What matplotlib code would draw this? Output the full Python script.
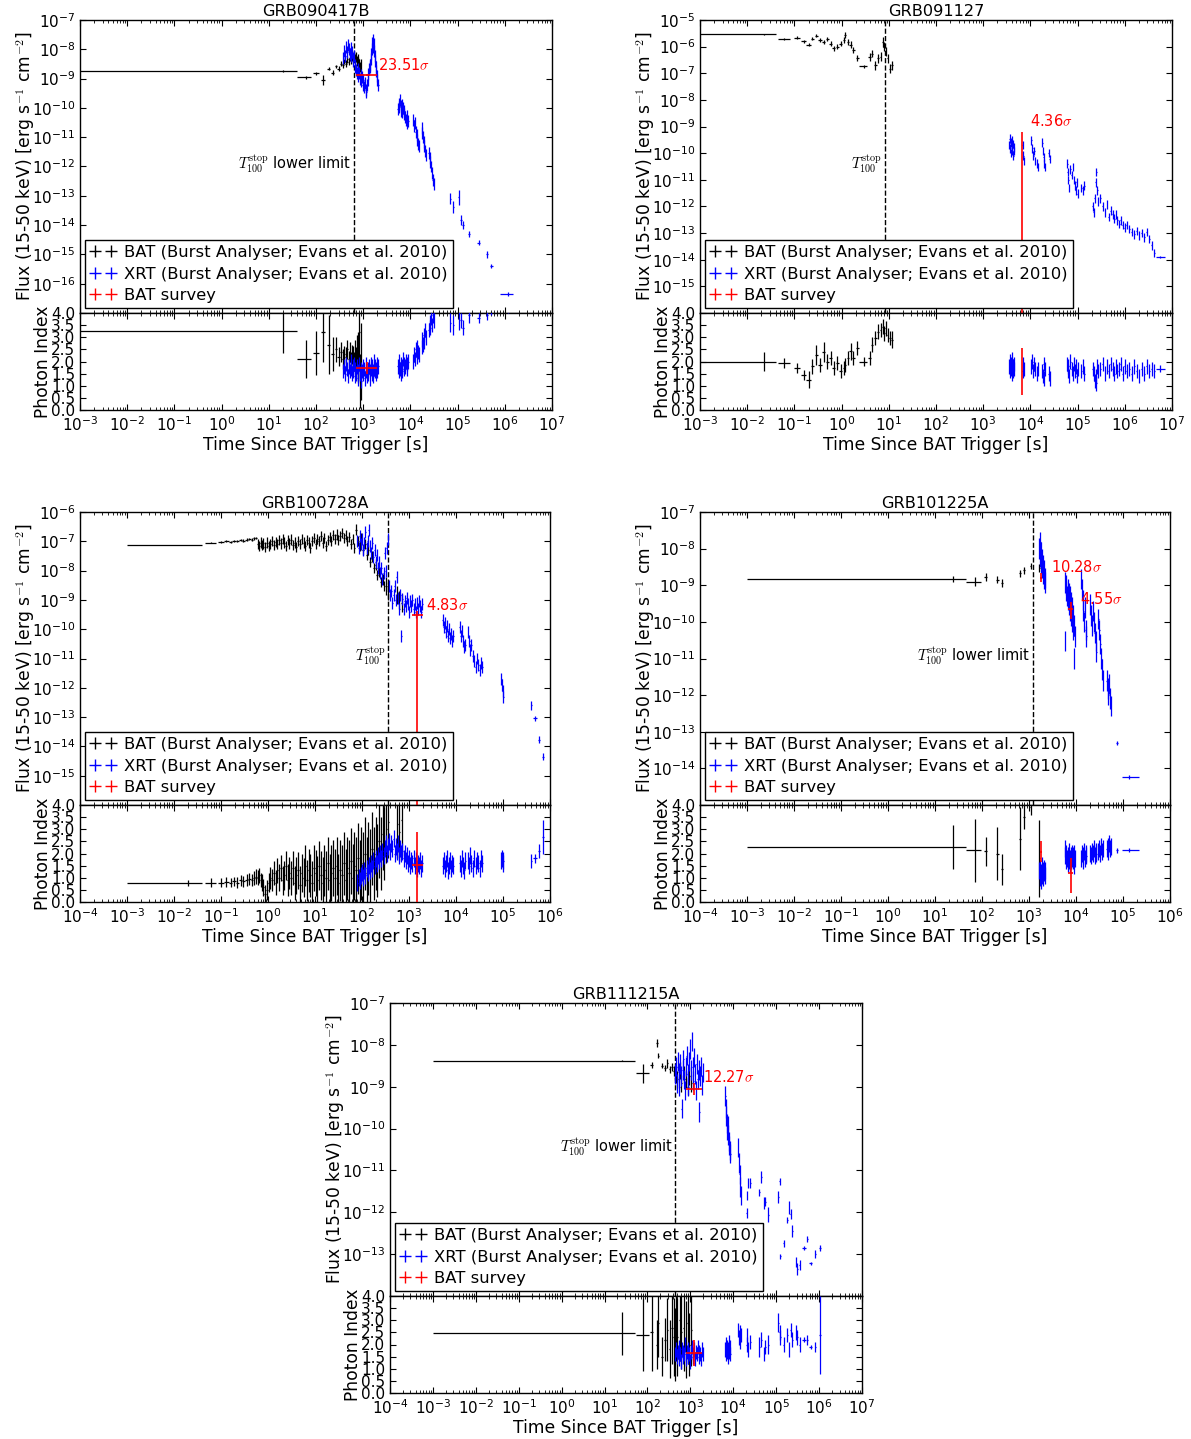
import numpy as np
import matplotlib
matplotlib.use('Agg')
import matplotlib.pyplot as plt
from matplotlib.lines import Line2D
from matplotlib.ticker import LogLocator, NullLocator, FixedLocator, FormatStrFormatter
from matplotlib.transforms import blended_transform_factory

# ---------------- GRB090417B ----------------
A_bat_t = [20, 60, 100, 140, 185, 225, 265, 300, 335, 370, 400, 430, 460, 490, 520, 550, 580, 610, 640, 670,
           700, 730, 760, 790, 820, 850, 880]
A_bat_lo = [0.001, 40, 85, 125, 170, 210, 250, 285, 320, 355, 385, 415, 445, 475, 505, 535, 565, 595, 625, 655,
            685, 715, 745, 775, 805, 835, 865]
A_bat_hi = [40, 80, 115, 155, 200, 240, 280, 315, 350, 385, 415, 445, 475, 505, 535, 565, 595, 625, 655, 685,
            715, 745, 775, 805, 835, 865, 895]
A_bat_f = [1.8e-9, 1.1e-9, 1.5e-9, 0.9e-9, 2.2e-9, 1.6e-9, 2.6e-9, 2.2e-9, 3.2e-9, 2.8e-9, 3.8e-9, 3.2e-9, 4.5e-9,
           3.8e-9, 5.2e-9, 4.2e-9, 5.5e-9, 4.6e-9, 6e-9, 4.8e-9, 5.5e-9, 4e-9, 3.5e-9, 4.5e-9, 3e-9, 2.5e-9, 3e-9]
A_bat_fe = [1.05, 1.15, 1.1, 1.5, 1.15, 1.2, 1.15, 1.2, 1.2, 1.25, 1.25, 1.3, 1.3, 1.3, 1.35, 1.35, 1.4, 1.4, 1.4,
            1.4, 1.45, 1.45, 1.5, 1.5, 1.5, 1.5, 1.5]
A_bat_g = [3.25, 2.1, 2.35, 3.2, 2.7, 2.3, 2.5, 2.2, 2.4, 2.1, 2.3, 2.2, 2.5, 2.1, 2.4, 2.0, 2.3, 2.2, 2.0, 2.4,
           2.1, 2.5, 1.9, 2.2, 3.2, 1.2, 2.0]
A_bat_ge = [0.9, 0.8, 0.9, 1.2, 1.2, 0.7, 0.5, 0.4, 0.4, 0.4, 0.35, 0.4, 0.4, 0.35, 0.4, 0.4, 0.4, 0.45, 0.4, 0.5,
            0.5, 0.6, 0.8, 1.0, 1.5, 1.1, 1.6]

A_xrt_t = [380, 400, 420, 440, 460, 480, 500, 520, 540, 560, 580, 600, 620, 640, 660, 680, 700,
           730, 760, 790, 820, 850, 880, 910, 940, 970,
           1000, 1040, 1080, 1120, 1160, 1200, 1240, 1280, 1320, 1360, 1400, 1440, 1480, 1520, 1560, 1600, 1640,
           1680, 1720, 1760, 1800, 1850, 1900, 1950, 2000, 2100,
           5400, 5600, 5800, 6000, 6200, 6400, 6600, 6800, 7000, 7200, 7400, 7700, 8000, 8300, 8600, 9000,
           11500, 12000, 12500, 13000, 13500, 14000, 14500, 15000,
           17500, 18000, 18500, 19000, 19500, 20000, 21000,
           24500, 25500, 26500, 27500, 28500, 29500, 31000]
A_xrt_f = [5e-9, 9e-9, 6e-9, 1.2e-8, 8e-9, 1.4e-8, 1e-8, 7e-9, 1.1e-8, 6e-9, 8e-9, 5e-9, 4e-9, 6e-9, 3e-9, 2.5e-9, 2e-9,
           1.5e-9, 2.2e-9, 1.2e-9, 1.6e-9, 1e-9, 1.3e-9, 8e-10, 1.1e-9, 6e-10,
           9e-10, 5e-10, 7e-10, 4e-10, 3.5e-10, 6e-10, 9e-10, 1.4e-9, 2.2e-9, 3e-9, 2.5e-9, 4.5e-9, 7e-9, 1e-8,
           1.6e-8, 1.2e-8, 2e-8, 1.5e-8, 9e-9, 6e-9, 4e-9, 2.5e-9, 1.8e-9, 1.2e-9, 9e-10, 6e-10,
           9e-11, 1.4e-10, 1.1e-10, 1.8e-10, 1.2e-10, 8e-11, 1.3e-10, 7e-11, 1e-10, 6e-11, 8e-11, 5e-11, 4e-11,
           5.5e-11, 3e-11, 3.5e-11,
           4e-11, 2.5e-11, 3e-11, 1.5e-11, 1.2e-11, 8e-12, 6e-12, 5e-12,
           2e-11, 1.4e-11, 1e-11, 7e-12, 5e-12, 3.5e-12, 2.5e-12,
           3e-12, 2e-12, 1.4e-12, 1e-12, 6e-13, 3.5e-13, 2.5e-13]
A_xrt_g = [1.6, 1.8, 1.5, 1.9, 1.7, 1.4, 1.8, 1.6, 2.0, 1.7, 1.5, 1.8, 1.6, 1.9, 1.4, 1.7, 1.5,
           1.8, 1.3, 1.6, 1.9, 1.5, 1.7, 1.2, 1.6, 1.8,
           1.5, 1.7, 1.3, 1.6, 1.9, 1.4, 1.7, 1.5, 1.8, 1.6, 1.3, 1.7, 1.9, 1.5, 1.8, 1.6, 1.4, 1.7, 2.0, 1.6, 1.8,
           1.5, 1.7, 1.9, 1.6, 1.8,
           1.8, 1.6, 2.0, 1.7, 1.5, 1.9, 1.8, 1.6, 2.1, 1.7, 1.9, 1.8, 2.0, 1.7, 1.9, 2.0,
           2.0, 2.3, 2.1, 2.5, 2.2, 2.6, 2.4, 2.3,
           2.6, 2.9, 2.7, 3.1, 2.8, 3.3, 3.0,
           3.3, 3.6, 3.4, 3.8, 3.5, 3.9, 3.7]

A_late_t = [70000, 81000, 105000, 118000, 130000, 175000, 280000, 420000, 520000, 1.15e6]
A_late_xw = [0.03, 0.03, 0.04, 0.03, 0.03, 0.05, 0.08, 0.05, 0.06, 0.3]
A_late_f = [8e-14, 4e-14, 9e-14, 1.5e-14, 1e-14, 5e-15, 2.5e-15, 1e-15, 4e-16, 4.5e-17]
A_late_fe = [1.5, 1.6, 1.8, 1.5, 1.4, 1.3, 1.2, 1.3, 1.2, 1.15]
A_late_g = [3.6, 3.5, 3.8, 3.7, 3.4, 3.9, 3.8, 3.9, 4.2, 4.3]
A_late_ge = [0.4, 0.4, 0.5, 0.3, 0.3, 0.3, 0.2, 0.2, 0.3, 0.3]

A_red_t, A_red_lo, A_red_hi = [1200], [700], [2000]
A_red_f, A_red_flo, A_red_fhi = [1.3e-9], [1.2e-9], [1.4e-9]
A_red_g, A_red_glo, A_red_ghi = [1.75], [1.5], [2.0]
A_sig = ['23.51']

# ---------------- GRB091127 ----------------
B_bat_t = [0.023, 0.06, 0.114, 0.16, 0.2, 0.24, 0.29, 0.35, 0.42, 0.5, 0.59, 0.69, 0.81, 0.95, 1.12, 1.2, 1.36,
           1.55, 1.77, 2.15, 2.96, 3.97, 4.45, 5.2, 5.9, 6.7, 7.4, 7.9, 8.6, 9.4, 10.7, 11.5]
B_bat_lo = [0.001, 0.045, 0.1, 0.14, 0.18, 0.22, 0.27, 0.32, 0.39, 0.46, 0.55, 0.64, 0.75, 0.88, 1.05, 1.15, 1.28,
            1.45, 1.66, 2.0, 2.3, 3.7, 4.2, 4.9, 5.6, 6.4, 7.1, 7.6, 8.3, 9.0, 10.2, 11.1]
B_bat_hi = [0.04, 0.08, 0.13, 0.18, 0.22, 0.26, 0.31, 0.38, 0.45, 0.54, 0.63, 0.74, 0.87, 1.02, 1.18, 1.26, 1.44,
            1.65, 1.88, 2.3, 3.4, 4.2, 4.7, 5.5, 6.2, 7.0, 7.7, 8.2, 8.9, 9.8, 11.2, 12.0]
B_bat_f = [2.9e-6, 2.0e-6, 2.2e-6, 1.6e-6, 1.2e-6, 2.0e-6, 2.6e-6, 1.8e-6, 1.5e-6, 2.0e-6, 1.3e-6, 8.7e-7, 1.0e-6,
           1.3e-6, 1.8e-6, 2.7e-6, 1.5e-6, 1.2e-6, 7.4e-7, 3.8e-7, 1.8e-7, 4.2e-7, 5.5e-7, 2.0e-7, 3.6e-7, 4.2e-7,
           1.5e-6, 1.0e-6, 6.4e-7, 3.6e-7, 1.5e-7, 2.0e-7]
B_bat_fe = [1.05, 1.1, 1.1, 1.15, 1.15, 1.15, 1.15, 1.2, 1.2, 1.2, 1.2, 1.25, 1.25, 1.25, 1.3, 1.3, 1.3, 1.3, 1.3,
            1.3, 1.1, 1.4, 1.4, 1.5, 1.5, 1.5, 1.5, 1.5, 1.5, 1.5, 1.5, 1.5]
B_bat_g = [2.0, 1.95, 1.73, 1.44, 1.24, 1.8, 2.27, 1.86, 2.4, 2.0, 2.15, 1.73, 1.93, 1.6, 1.73, 1.86, 2.15, 2.42,
           2.15, 2.56, 2.0, 2.15, 2.7, 2.97, 3.23, 3.3, 3.44, 3.16, 3.37, 3.1, 2.97, 2.9]
B_bat_ge = [0.4, 0.2, 0.2, 0.2, 0.35, 0.3, 0.4, 0.3, 0.4, 0.3, 0.3, 0.3, 0.3, 0.3, 0.3, 0.3, 0.3, 0.35, 0.3, 0.3,
            0.2, 0.3, 0.3, 0.3, 0.3, 0.3, 0.3, 0.3, 0.3, 0.3, 0.3, 0.35]

B_xrt_t = [3600, 3680, 3760, 3840, 3920, 4000, 4080, 4160, 4240, 4320, 4400, 4500,
           6900, 7100, 7300,
           10500, 11000, 11500, 12000, 12500,
           14000, 14500,
           18000, 18500, 19000, 19500, 20000,
           24500, 25500,
           60000, 62000, 64000, 66000, 70000, 75000, 80000, 84000, 88000, 92000, 96000, 100000,
           120000, 130000, 140000,
           210000, 220000, 230000, 240000, 250000, 260000, 270000,
           300000, 340000, 380000, 420000, 460000, 500000, 550000, 600000, 650000, 700000, 760000, 820000, 900000,
           1.0e6, 1.1e6, 1.25e6, 1.4e6, 1.6e6, 1.8e6, 2.0e6, 2.3e6, 2.6e6, 2.9e6, 3.3e6, 3.7e6, 4.2e6]
B_xrt_f = [2e-10, 3.5e-10, 1.5e-10, 2.5e-10, 1e-10, 3e-10, 1.8e-10, 1.2e-10, 2.2e-10, 8e-11, 1.6e-10, 1.2e-10,
           2e-10, 8e-11, 5e-11,
           3e-10, 1.5e-10, 8e-11, 1.2e-10, 5e-11,
           4e-11, 3e-11,
           2.5e-10, 1.2e-10, 7e-11, 4e-11, 3e-11,
           1e-10, 6e-11,
           4e-11, 2e-11, 1e-11, 5e-12, 2.5e-11, 1.5e-11, 3e-11, 1e-11, 6e-12, 4e-12, 8e-12, 3e-12,
           5e-12, 4e-12, 6e-12,
           1e-12, 6e-13, 2e-12, 8e-12, 2e-11, 4e-12, 1.5e-12,
           2e-12, 1e-12, 6e-13, 1.2e-12, 4e-13, 7e-13, 5e-13, 3.5e-13, 5e-13, 3e-13, 2.2e-13, 3e-13, 2e-13, 1.6e-13,
           2e-13, 1.4e-13, 1.1e-13, 9e-14, 1.2e-13, 8e-14, 1e-13, 7e-14, 1.1e-13, 6e-14, 3.5e-14, 1.8e-14]
B_xrt_g = [1.8, 1.6, 2.0, 1.7, 1.9, 1.5, 1.8, 2.1, 1.6, 1.8, 1.9, 1.7,
           1.6, 1.9, 1.7,
           1.8, 2.0, 1.6, 1.9, 1.7,
           1.5, 1.7,
           1.6, 1.4, 1.9, 1.3, 1.7,
           1.5, 1.3,
           1.9, 1.6, 1.8, 1.4, 2.0, 1.7, 1.5, 1.9, 1.6, 1.8, 1.4, 1.7,
           1.6, 1.8, 1.5,
           1.7, 1.5, 1.2, 1.4, 1.1, 1.8, 1.6,
           1.7, 1.9, 1.5, 1.8, 1.6, 1.9, 1.7, 1.5, 1.8, 1.6, 1.7, 1.9, 1.5, 1.8, 1.6, 1.7, 1.5, 1.8, 1.6, 1.4,
           1.7, 1.5, 1.8, 1.6, 1.7, 1.6]

B_late_t, B_late_lo, B_late_hi = [5.6e6], [4.5e6], [7.0e6]
B_late_f, B_late_fe = [1.3e-14], [1.1]
B_late_g, B_late_ge = [1.7], [0.15]

B_red_t, B_red_lo, B_red_hi = [6600], [6500], [6700]
B_red_f, B_red_flo, B_red_fhi = [1.5e-11], [1e-17], [6.3e-10]
B_red_g, B_red_glo, B_red_ghi = [1.6], [0.6], [2.55]
B_sig = ['4.36']

# ---------------- GRB100728A ----------------
C_bat_t = [0.02, 0.06, 0.1, 0.13, 0.16, 0.19, 0.22, 0.26, 0.3, 0.35, 0.4, 0.45, 0.5, 0.55]
C_bat_lo = [0.001, 0.045, 0.085, 0.115, 0.145, 0.175, 0.205, 0.24, 0.28, 0.325, 0.375, 0.425, 0.475, 0.525]
C_bat_hi = [0.04, 0.08, 0.115, 0.145, 0.175, 0.205, 0.24, 0.28, 0.325, 0.375, 0.425, 0.475, 0.525, 0.575]
C_bat_f = [7.5e-8, 9e-8, 9.5e-8, 1e-7, 9.5e-8, 1e-7, 1.05e-7, 1.1e-7, 1.05e-7, 1.15e-7, 1.2e-7, 1.15e-7, 1.25e-7,
           1.3e-7]
C_bat_fe = [1.03, 1.05, 1.06, 1.07, 1.08, 1.08, 1.09, 1.1, 1.1, 1.1, 1.12, 1.12, 1.12, 1.12]
C_bat_g = [0.77, 0.8, 0.8, 0.82, 0.8, 0.85, 0.8, 0.9, 0.85, 0.9, 0.95, 0.9, 1.0, 1.05]
C_bat_ge = [0.12, 0.2, 0.2, 0.2, 0.2, 0.2, 0.22, 0.22, 0.22, 0.25, 0.25, 0.25, 0.28, 0.3]

C_dense_t = [0.6, 0.65, 0.7, 0.75, 0.8, 0.87, 0.95,
             1.03, 1.12, 1.22, 1.33, 1.45, 1.58, 1.72, 1.87, 2.04,
             2.2, 2.4, 2.6, 2.85, 3.1, 3.4, 3.7, 4.0, 4.4, 4.8, 5.2, 5.7, 6.2, 6.8, 7.4, 8.0, 8.7, 9.5,
             10.4, 11.3, 12.3, 13.4, 14.6, 15.9, 17.3, 18.9, 20.6, 22.4, 24.4, 26.6, 29, 31.6, 34.4, 37.5, 40.9,
             44.6, 48.6, 53, 57.8, 63, 68.7, 74.9, 81.6, 89, 97,
             106, 115, 126, 137, 149, 163, 178, 194, 211, 230, 251, 274, 299]
C_dense_f = [8e-8, 7e-8, 9e-8, 7.5e-8, 8.5e-8, 6.5e-8, 9e-8,
             7e-8, 8e-8, 1e-7, 7.5e-8, 9.5e-8, 8e-8, 1.1e-7, 8.5e-8, 1.2e-7,
             9e-8, 7e-8, 1.1e-7, 8.5e-8, 1.15e-7, 7.5e-8, 9e-8, 6.5e-8, 1e-7, 8e-8, 1.2e-7, 9e-8, 7e-8, 1.1e-7,
             9e-8, 6e-8, 1e-7, 1.3e-7,
             8e-8, 1.2e-7, 1e-7, 1.5e-7, 9e-8, 1.3e-7, 7e-8, 1.1e-7, 1.4e-7, 1e-7, 1.6e-7, 1.2e-7, 1.7e-7, 1.1e-7,
             1.5e-7, 1.9e-7, 1.3e-7, 1.6e-7, 1e-7, 1.4e-7, 8e-8, 1.2e-7, 6e-8, 2.5e-7, 1e-7, 7e-8, 1.3e-7,
             5e-8, 8e-8, 3.5e-8, 5e-8, 2e-8, 3e-8, 1.2e-8, 1.6e-8, 7e-9, 9e-9, 4e-9, 5e-9, 3e-9]
C_dense_g = [1.0, 1.1, 0.9, 0.8, 0.6, 0.35, 0.5,
             0.8, 1.0, 0.9, 1.2, 0.8, 1.3, 1.0, 1.4, 0.9,
             1.1, 1.5, 0.9, 1.2, 1.0, 1.4, 0.8, 1.1, 1.3, 0.7, 1.2, 1.0, 1.5, 0.9, 1.3, 1.1, 0.8, 1.4,
             1.2, 0.9, 1.5, 1.1, 0.8, 1.3, 1.0, 1.6, 0.9, 1.2, 1.4, 1.0, 1.5, 0.8, 1.3, 1.1, 1.6, 0.9, 1.4, 1.2,
             1.7, 1.0, 1.5, 1.3, 1.8, 1.1, 1.6,
             1.4, 2.0, 1.2, 1.8, 1.5, 2.2, 1.6, 2.0, 1.7, 2.5, 2.0, 2.8, 2.4]
C_dense_ge = [0.3, 0.3, 0.3, 0.35, 0.35, 0.35, 0.4,
              0.4, 0.45, 0.45, 0.5, 0.5, 0.5, 0.55, 0.55, 0.6,
              0.6, 0.6, 0.65, 0.65, 0.7, 0.7, 0.7, 0.75, 0.75, 0.8, 0.8, 0.8, 0.85, 0.85, 0.9, 0.9, 0.9, 0.95,
              0.95, 1.0, 1.0, 1.0, 1.05, 1.05, 1.1, 1.1, 1.1, 1.15, 1.15, 1.2, 1.2, 1.2, 1.25, 1.25, 1.3, 1.3,
              1.3, 1.35, 1.35, 1.4, 1.4, 1.4, 1.45, 1.45, 1.5,
              1.5, 1.5, 1.5, 1.5, 1.5, 1.5, 1.5, 1.5, 1.5, 1.5, 1.5, 1.5, 1.5]

C_bat2_t = [330, 360, 560, 620, 700]
C_bat2_f = [3e-9, 2e-9, 1.5e-9, 1e-9, 8e-10]
C_bat2_g = [3.0, 3.3, 3.2, 2.9, 3.4]
C_bat2_ge = [1.4, 1.5, 1.4, 1.2, 1.5]

C_xrt_t = [80, 85, 90, 95, 100, 106, 112, 118, 125, 132, 140, 148, 156, 165, 175, 185, 195, 206, 218, 230,
           243, 257, 272, 287, 303, 320, 338, 357, 377, 398, 420, 444, 469, 495, 523, 552, 583, 616, 650, 687,
           725, 766, 809, 854, 902, 953, 1006, 1063, 1122, 1185, 1252, 1322, 1396, 1474, 1557, 1644, 1736, 1834,
           1937,
           5200, 5500, 5800, 6100, 6400, 6700, 7000, 7400, 7800, 8200, 8700,
           12000, 12700, 13400, 14200, 15000, 15800,
           18000, 19000, 20000, 21000, 22500, 24000, 26000, 28000, 30000, 32000, 34000, 36000,
           92000, 95000, 98000, 101000]
C_xrt_f = [1e-7, 6e-8, 1.5e-7, 8e-8, 1.2e-7, 5e-8, 9e-8, 2e-7, 6e-8, 1e-7, 2.5e-7, 7e-8, 4e-8, 9e-8, 3e-8, 5e-8,
           2e-8, 3.5e-8, 1.2e-8, 2e-8, 8e-9, 1.2e-8, 5e-9, 8e-9, 4e-8, 1e-8, 6e-8, 1.2e-7, 3e-9, 1.5e-9, 2e-9,
           8e-10, 1.5e-9, 3e-9, 1e-9, 6e-9, 1.2e-9, 5e-10, 1.5e-9, 6e-11, 1.1e-9, 5e-10, 9e-10, 6e-10, 1.2e-9,
           7e-10, 4e-10, 9e-10, 6e-10, 1e-9, 5e-10, 7e-10, 4e-10, 8e-10, 5e-10, 9e-10, 6e-10, 4e-10, 7e-10,
           2e-10, 1.2e-10, 1.6e-10, 8e-11, 1.3e-10, 6e-11, 1e-10, 5e-11, 7e-11, 4e-11, 6e-11,
           1.2e-10, 6e-11, 9e-11, 4e-11, 2.5e-11, 3e-11,
           8e-11, 4e-11, 2e-11, 3e-11, 1.2e-11, 8e-12, 5e-12, 1e-11, 6e-12, 4e-12, 7e-12, 5e-12,
           2e-12, 1.2e-12, 8e-13, 5e-13]
C_xrt_g = [0.8, 1.0, 0.9, 1.1, 1.2, 1.0, 1.3, 1.1, 1.4, 1.2, 1.5, 1.3, 1.6, 1.4, 1.7, 1.5, 1.8, 1.6, 1.9, 1.7,
           2.0, 1.8, 2.1, 1.9, 2.2, 2.4, 2.0, 2.3, 2.5, 2.1, 2.4, 2.2, 2.6, 2.0, 2.3, 2.1, 2.4, 1.9, 2.2, 2.0,
           2.1, 1.8, 2.0, 1.7, 1.9, 1.6, 1.8, 1.5, 1.7, 1.6, 1.8, 1.5, 1.7, 1.4, 1.6, 1.5, 1.7, 1.4, 1.6,
           1.5, 1.7, 1.4, 1.6, 1.8, 1.3, 1.5, 1.7, 1.4, 1.6, 1.5,
           1.6, 1.4, 1.8, 1.5, 1.3, 1.7,
           1.7, 1.5, 1.9, 1.6, 1.4, 1.8, 1.5, 1.7, 1.6, 1.4, 1.8, 1.6,
           1.7, 1.8, 1.6, 1.7]

C_late_t = [400000, 480000, 590000, 720000]
C_late_xw = [0.03, 0.08, 0.05, 0.04]
C_late_f = [2.5e-13, 9e-14, 1.7e-14, 4.5e-15]
C_late_fe = [1.4, 1.2, 1.3, 1.3]
C_late_g = [1.7, 1.8, 2.1, 2.7]
C_late_ge = [0.3, 0.2, 0.3, 0.7]

C_red_t, C_red_lo, C_red_hi = [1500], [1150], [2000]
C_red_f, C_red_flo, C_red_fhi = [3e-10], [1e-17], [4.2e-10]
C_red_g, C_red_glo, C_red_ghi = [1.53], [0.0], [2.9]
C_sig = ['4.83']

# ---------------- GRB101225A ----------------
D_bat_t = [24, 70, 120, 213, 263, 645, 780, 1090, 1650]
D_bat_lo = [0.001, 45, 110, 200, 250, 620, 750, 1050, 1600]
D_bat_hi = [45, 95, 130, 226, 276, 670, 810, 1130, 1700]
D_bat_f = [1.5e-9, 1.25e-9, 1.7e-9, 1.4e-9, 1.15e-9, 2.1e-9, 2.6e-9, 3.3e-9, 3e-9]
D_bat_fe = [1.2, 1.35, 1.3, 1.25, 1.3, 1.25, 1.25, 1.2, 1.3]
D_bat_g = [2.28, 2.14, 2.1, 2.0, 1.35, 2.6, 3.5, 3.9, 1.8]
D_bat_ge = [0.9, 1.3, 0.6, 1.1, 0.65, 1.3, 0.5, 0.3, 1.6]

D_xrt_t = [1660, 1700, 1740, 1780, 1820, 1860, 1900, 1950, 2000, 2050, 2100, 2150, 2200,
           5800, 5900, 6000, 6200, 6400, 6600, 6800, 7000, 7200, 7400, 7600, 7800, 8000, 8200, 8400, 8600, 8800,
           9000, 9100, 9300,
           12800, 13300, 13800, 14300, 14800, 15400, 16000, 16700,
           20000, 21000, 22000, 23000, 24000, 25000, 26000, 27000,
           30000, 31500, 33000, 34500, 36000, 38000,
           45000, 47000, 49000, 51000, 53000, 55000]
D_xrt_f = [1e-8, 6e-9, 1.5e-8, 4e-9, 8e-9, 3e-9, 5e-9, 2e-9, 3.5e-9, 1.5e-9, 2.5e-9, 1.2e-9, 1.6e-9,
           1.2e-9, 3e-11, 7e-10, 1e-9, 5e-10, 8e-10, 4e-10, 6e-10, 3e-10, 5e-10, 2e-10, 3.5e-10, 1.5e-10, 2.5e-10,
           1e-10, 1.5e-10, 6e-11, 8e-11, 1e-11, 4e-11,
           1.5e-9, 8e-10, 4e-10, 2e-10, 1e-10, 2.5e-10, 6e-11, 4e-11,
           3e-10, 1.5e-10, 8e-11, 2e-10, 1e-10, 5e-11, 3e-11, 1.5e-11,
           1.2e-10, 6e-11, 2.5e-11, 1e-11, 5e-12, 2.5e-12,
           2.5e-12, 1.5e-12, 1e-12, 2e-12, 8e-13, 5e-13]
D_xrt_g = [1.3, 1.0, 1.4, 1.2, 0.9, 1.5, 1.1, 1.3, 1.0, 1.4, 1.2, 1.1, 1.3,
           1.9, 2.2, 1.7, 2.0, 1.8, 1.6, 1.9, 1.7, 2.1, 1.8, 1.6, 1.9, 1.7, 2.0, 1.8, 1.9, 1.7, 2.0, 1.5, 1.8,
           1.8, 2.0, 1.7, 1.9, 2.1, 1.8, 2.0, 1.9,
           2.0, 1.9, 2.1, 2.0, 2.2, 1.9, 2.1, 2.0,
           2.1, 2.2, 2.0, 2.3, 2.1, 2.2,
           2.2, 2.3, 2.1, 2.4, 2.2, 2.3]

D_late_t, D_late_lo, D_late_hi = [74000, 135000], [71000, 93000], [77000, 215000]
D_late_f, D_late_fe = [5e-14, 5.9e-15], [1.15, 1.12]
D_late_g, D_late_ge = [2.14, 2.14], [0.1, 0.08]

D_red_t, D_red_lo, D_red_hi = [1800, 7700], [1750, 6700], [1850, 8700]
D_red_f, D_red_flo, D_red_fhi = [1.6e-9, 2.2e-10], [1.2e-9, 1.2e-10], [2.1e-9, 3.5e-10]
D_red_g, D_red_glo, D_red_ghi = [2.07, 1.18], [1.65, 0.37], [2.5, 1.8]
D_sig = ['10.28', '4.55']

# ---------------- GRB111215A ----------------
E_bat_t = [26, 77, 125, 165, 180, 215, 255, 290, 330, 370, 410, 430]
E_bat_lo = [0.001, 54, 112, 158, 172, 205, 245, 280, 318, 355, 395, 420]
E_bat_hi = [50, 110, 138, 172, 188, 225, 265, 300, 342, 385, 425, 440]
E_bat_f = [4.2e-9, 2.1e-9, 3.3e-9, 1.1e-8, 5.5e-9, 3.2e-9, 2.8e-9, 3.6e-9, 2.6e-9, 2.9e-9, 2.4e-9, 2.0e-9]
E_bat_fe = [1.03, 1.7, 1.15, 1.25, 1.15, 1.15, 1.15, 1.3, 1.2, 1.25, 1.3, 1.4]
E_bat_g = [2.46, 2.4, 2.5, 2.0, 2.9, 1.5, 2.2, 2.6, 1.8, 2.7, 2.3, 2.0]
E_bat_ge = [0.9, 1.5, 1.6, 1.0, 1.4, 0.8, 0.9, 1.3, 1.2, 1.5, 1.6, 1.5]

E_bat2_t = [460, 500, 560, 620, 700, 780, 860, 950, 1050]
E_bat2_f = [2e-9, 1.5e-9, 2.5e-9, 1.2e-9, 2e-9, 1.5e-9, 1e-9, 1.8e-9, 1.2e-9]
E_bat2_g = [2.8, 2.3, 3.0, 2.5, 2.7, 2.2, 2.9, 2.0, 2.6]
E_bat2_ge = [1.5, 1.6, 1.7, 1.5, 1.8, 1.6, 1.7, 1.3, 1.5]

E_xrt_t = [450, 470, 490, 510, 530, 555, 580, 605, 630, 660, 690, 720, 750, 785, 820, 860, 900, 940, 985, 1030,
           1080, 1130, 1180, 1230, 1290, 1350, 1410, 1480, 1550, 1620, 1700, 1780, 1860, 1950,
           6500, 6700, 6900, 7100, 7300, 7500, 7700, 7900, 8100, 8300, 8500,
           13000, 13500, 14000, 14500, 15000]
E_xrt_f = [2e-9, 3e-9, 1.2e-9, 4e-9, 2.2e-9, 1e-9, 3.5e-9, 1.8e-9, 3e-10, 2.5e-9, 4.5e-9, 1.5e-9, 8e-10, 3e-9,
           5.5e-9, 2e-9, 1e-9, 4e-9, 8e-9, 2.5e-9, 1.2e-8, 3e-9, 1.4e-9, 5e-9, 2e-9, 8e-10, 3.5e-9, 1.5e-9,
           2.5e-9, 2.5e-10, 1.8e-9, 3e-9, 1.1e-9, 2.2e-9,
           6e-10, 3e-10, 2e-10, 1.3e-10, 9e-11, 1.2e-10, 7e-11, 5e-11, 4e-11, 3e-11, 2.5e-11,
           3.5e-11, 1.5e-11, 8e-12, 4e-12, 2.5e-12]
E_xrt_g = [1.6, 1.8, 1.5, 1.7, 1.4, 1.9, 1.6, 1.3, 1.8, 1.5, 1.7, 1.6, 2.0, 1.4, 1.7, 1.5, 1.8, 1.6, 1.3, 1.7,
           1.9, 1.5, 1.6, 1.8, 1.4, 1.7, 1.6, 1.9, 1.5, 1.7, 1.6, 1.4, 1.8, 1.6,
           1.8, 1.6, 2.0, 1.7, 1.9, 1.5, 1.8, 2.1, 1.7, 1.9, 1.6,
           2.6, 2.3, 2.5, 2.1, 2.4]

E_late_t = [20600, 21000, 22000, 25000, 40500, 45000, 52000, 56000, 66000, 112000, 120000, 126000, 150000,
            180000, 200000, 220000, 240000, 290000, 310000, 350000, 454000, 535000, 645000, 810000, 1.05e6]
E_late_xw = [0.02, 0.02, 0.02, 0.02, 0.02, 0.02, 0.02, 0.02, 0.02, 0.02, 0.02, 0.02, 0.02, 0.02, 0.02, 0.02,
             0.02, 0.02, 0.02, 0.02, 0.1, 0.03, 0.08, 0.03, 0.05]
E_late_f = [9.5e-13, 2.5e-12, 5e-12, 5e-12, 3e-12, 7e-12, 1.7e-12, 1.8e-12, 8.7e-13, 2.3e-12, 5.5e-12, 9e-14,
            1.8e-13, 6.6e-13, 1.3e-12, 9e-13, 3.5e-13, 6.5e-14, 4.5e-14, 5.5e-14, 1.4e-13, 2.3e-13, 6e-14, 1e-13,
            1.4e-13]
E_late_fe = [1.3, 1.3, 1.3, 1.3, 1.2, 1.4, 1.4, 1.3, 1.5, 1.4, 1.2, 1.15, 1.2, 1.2, 1.4, 1.3, 1.4, 1.3, 1.4, 1.3,
             1.1, 1.15, 1.1, 1.25, 1.2]
E_late_g = [2.0, 2.4, 1.8, 2.1, 1.9, 2.2, 1.6, 1.9, 2.0, 2.9, 2.5, 2.3, 2.0, 2.4, 1.8, 2.6, 2.2, 2.5, 2.3, 2.0,
            2.2, 2.2, 1.9, 1.9, 2.4]
E_late_ge = [0.3, 0.3, 0.3, 0.3, 0.4, 0.3, 0.3, 0.3, 0.4, 0.4, 0.3, 0.3, 0.3, 0.3, 0.3, 0.3, 0.3, 0.3, 0.3, 0.3,
             0.1, 0.2, 0.1, 0.2, 1.6]

E_red_t, E_red_lo, E_red_hi = [1230], [800], [1850]
E_red_f, E_red_flo, E_red_fhi = [9e-10], [6.5e-10], [1.25e-9]
E_red_g, E_red_glo, E_red_ghi = [1.64], [1.1], [2.2]
E_sig = ['12.27']

titles = ['GRB090417B', 'GRB091127', 'GRB100728A', 'GRB101225A', 'GRB111215A']
t100_stop = [640, 8.2, 355, 1200, 440]

# ---------------------------------------------------------------
plt.rcParams.update({
    'font.size': 11,
    'mathtext.fontset': 'cm',
    'xtick.direction': 'in', 'ytick.direction': 'in',
    'xtick.top': True, 'ytick.right': True,
    'xtick.major.size': 4, 'ytick.major.size': 4,
    'xtick.minor.size': 2, 'ytick.minor.size': 2,
    'axes.linewidth': 1.0,
})

W, H = 1191, 1439
fig = plt.figure(figsize=(W / 100, H / 100), dpi=100)


def px_rect(x0, x1, y0, y1):
    return [x0 / W, 1 - y1 / H, (x1 - x0) / W, (y1 - y0) / H]


def series(axf, axg, color, t, f, g, fe, ge, xw=None, lo=None, hi=None, z=2):
    t = np.asarray(t, float)
    f = np.asarray(f, float)
    g = np.asarray(g, float)
    if lo is None:
        w = np.broadcast_to(np.asarray(xw, float), t.shape)
        lo, hi = t * (1 - w), t * (1 + w)
    lo, hi = np.asarray(lo, float), np.asarray(hi, float)
    fe = np.broadcast_to(np.asarray(fe, float), t.shape)
    ge = np.broadcast_to(np.asarray(ge, float), t.shape)
    xerr = [t - lo, hi - t]
    axf.errorbar(t, f, xerr=xerr, yerr=[f - f / fe, f * fe - f], fmt='none',
                 ecolor=color, elinewidth=0.9, capsize=0, zorder=z)
    axg.errorbar(t, g, xerr=xerr, yerr=ge, fmt='none',
                 ecolor=color, elinewidth=0.9, capsize=0, zorder=z)


def red_points(axf, axg, t, lo, hi, f, flo, fhi, g, glo, ghi):
    t, f, g = np.asarray(t, float), np.asarray(f, float), np.asarray(g, float)
    xerr = [t - np.asarray(lo), np.asarray(hi) - t]
    axf.errorbar(t, f, xerr=xerr, yerr=[f - np.asarray(flo), np.asarray(fhi) - f], fmt='none',
                 ecolor='r', elinewidth=1.2, capsize=0, zorder=5)
    axg.errorbar(t, g, xerr=xerr, yerr=[g - np.asarray(glo), np.asarray(ghi) - g], fmt='none',
                 ecolor='r', elinewidth=1.2, capsize=0, zorder=5)


panels = [
    dict(box=(80, 552, 20, 313, 410), xlim=(-3, 7), ylim=(-17, -7), lower=True,
         sig_xy=[(2100, 2.9e-9)]),
    dict(box=(700, 1172, 20, 313, 410), xlim=(-3, 7), ylim=(-16, -5), lower=False,
         sig_xy=[(9800, 1.6e-9)]),
    dict(box=(80, 550, 512, 805, 902), xlim=(-4, 6), ylim=(-16, -6), lower=False,
         sig_xy=[(2300, 6.8e-10)]),
    dict(box=(700, 1170, 512, 805, 902), xlim=(-4, 6), ylim=(-15, -7), lower=True,
         sig_xy=[(2900, 3.2e-9), (12000, 4.2e-10)]),
    dict(box=(390, 862, 1003, 1296, 1393), xlim=(-4, 7), ylim=(-14, -7), lower=True,
         sig_xy=[(1950, 1.7e-9)]),
]

sigs = [A_sig, B_sig, C_sig, D_sig, E_sig]

axes = []
for i, p in enumerate(panels):
    x0, x1, y0, ys, y1 = p['box']
    axf = fig.add_axes(px_rect(x0, x1, y0, ys))
    axg = fig.add_axes(px_rect(x0, x1, ys, y1), sharex=axf)
    axes.append((axf, axg))

# GRB090417B
axf, axg = axes[0]
series(axf, axg, 'k', A_bat_t, A_bat_f, A_bat_g, A_bat_fe, A_bat_ge, lo=A_bat_lo, hi=A_bat_hi)
series(axf, axg, 'b', A_xrt_t, A_xrt_f, A_xrt_g, 1.6, 0.3, xw=0.015, z=3)
series(axf, axg, 'b', A_late_t, A_late_f, A_late_g, A_late_fe, A_late_ge, xw=A_late_xw, z=3)
red_points(axf, axg, A_red_t, A_red_lo, A_red_hi, A_red_f, A_red_flo, A_red_fhi, A_red_g, A_red_glo, A_red_ghi)

# GRB091127
axf, axg = axes[1]
series(axf, axg, 'k', B_bat_t, B_bat_f, B_bat_g, B_bat_fe, B_bat_ge, lo=B_bat_lo, hi=B_bat_hi)
series(axf, axg, 'b', B_xrt_t, B_xrt_f, B_xrt_g, 1.45, 0.3, xw=0.02, z=3)
series(axf, axg, 'b', B_late_t, B_late_f, B_late_g, B_late_fe, B_late_ge, lo=B_late_lo, hi=B_late_hi, z=3)
red_points(axf, axg, B_red_t, B_red_lo, B_red_hi, B_red_f, B_red_flo, B_red_fhi, B_red_g, B_red_glo, B_red_ghi)

# GRB100728A
axf, axg = axes[2]
series(axf, axg, 'k', C_bat_t, C_bat_f, C_bat_g, C_bat_fe, C_bat_ge, lo=C_bat_lo, hi=C_bat_hi)
series(axf, axg, 'k', C_dense_t, C_dense_f, C_dense_g, 1.5, C_dense_ge, xw=0.04)
series(axf, axg, 'k', C_bat2_t, C_bat2_f, C_bat2_g, 2.0, C_bat2_ge, xw=0.03)
series(axf, axg, 'b', C_xrt_t, C_xrt_f, C_xrt_g, 1.6, 0.35, xw=0.02, z=3)
series(axf, axg, 'b', C_late_t, C_late_f, C_late_g, C_late_fe, C_late_ge, xw=C_late_xw, z=3)
red_points(axf, axg, C_red_t, C_red_lo, C_red_hi, C_red_f, C_red_flo, C_red_fhi, C_red_g, C_red_glo, C_red_ghi)

# GRB101225A
axf, axg = axes[3]
series(axf, axg, 'k', D_bat_t, D_bat_f, D_bat_g, D_bat_fe, D_bat_ge, lo=D_bat_lo, hi=D_bat_hi)
series(axf, axg, 'b', D_xrt_t, D_xrt_f, D_xrt_g, 1.9, 0.35, xw=0.012, z=3)
series(axf, axg, 'b', D_late_t, D_late_f, D_late_g, D_late_fe, D_late_ge, lo=D_late_lo, hi=D_late_hi, z=3)
red_points(axf, axg, D_red_t, D_red_lo, D_red_hi, D_red_f, D_red_flo, D_red_fhi, D_red_g, D_red_glo, D_red_ghi)

# GRB111215A
axf, axg = axes[4]
series(axf, axg, 'k', E_bat_t, E_bat_f, E_bat_g, E_bat_fe, E_bat_ge, lo=E_bat_lo, hi=E_bat_hi)
series(axf, axg, 'k', E_bat2_t, E_bat2_f, E_bat2_g, 1.6, E_bat2_ge, xw=0.03)
series(axf, axg, 'b', E_xrt_t, E_xrt_f, E_xrt_g, 1.7, 0.3, xw=0.015, z=3)
series(axf, axg, 'b', E_late_t, E_late_f, E_late_g, E_late_fe, E_late_ge, xw=E_late_xw, z=3)
red_points(axf, axg, E_red_t, E_red_lo, E_red_hi, E_red_f, E_red_flo, E_red_fhi, E_red_g, E_red_glo, E_red_ghi)

legend_handles = [
    Line2D([], [], color='k', marker='+', ls='none', markersize=8, mew=1),
    Line2D([], [], color='b', marker='+', ls='none', markersize=8, mew=1),
    Line2D([], [], color='r', marker='+', ls='none', markersize=8, mew=1),
]
legend_labels = ['BAT (Burst Analyser; Evans et al. 2010)',
                 'XRT (Burst Analyser; Evans et al. 2010)',
                 'BAT survey']

for i, p in enumerate(panels):
    axf, axg = axes[i]
    lo_x, hi_x = p['xlim']
    lo_y, hi_y = p['ylim']
    for ax in (axf, axg):
        ax.set_xscale('log')
        ax.set_xlim(10.0 ** lo_x, 10.0 ** hi_x)
        ax.xaxis.set_major_locator(LogLocator(base=10, numticks=30))
        ax.xaxis.set_minor_locator(LogLocator(base=10, subs=np.arange(2, 10), numticks=30))
    axf.set_yscale('log')
    axf.set_ylim(10.0 ** lo_y, 10.0 ** hi_y)
    axf.yaxis.set_major_locator(FixedLocator([10.0 ** k for k in range(lo_y + 1, hi_y + 1)]))
    axf.yaxis.set_minor_locator(NullLocator())
    axf.tick_params(axis='x', which='both', labelbottom=False)
    axf.set_ylabel(r'Flux (15-50 keV) [erg s$^{-1}$ cm$^{-2}$]', fontsize=12.3, labelpad=-4)
    axf.set_title(titles[i], fontsize=11.6, pad=3)

    axg.set_ylim(0, 4)
    axg.yaxis.set_major_locator(FixedLocator(np.arange(0, 4.01, 0.5)))
    axg.yaxis.set_major_formatter(FormatStrFormatter('%.1f'))
    axg.set_ylabel('Photon Index', fontsize=12.3, labelpad=-1)
    axg.set_xlabel('Time Since BAT Trigger [s]', fontsize=12.3, labelpad=2)

    # T100 stop marker
    axf.axvline(t100_stop[i], color='k', ls='--', lw=1, zorder=1)
    trans = blended_transform_factory(axf.transData, axf.transAxes)
    label = r'$T_{100}^{\rm stop}$ lower limit' if p['lower'] else r'$T_{100}^{\rm stop}$'
    axf.text(t100_stop[i] * 0.88, 0.51, label, transform=trans, ha='right', va='center', fontsize=10.5)

    for s, (sx, sy) in zip(sigs[i], p['sig_xy']):
        axf.text(sx, sy, s + r'$\sigma$', color='r', fontsize=10.5, ha='left', va='center', zorder=6)

    leg = axf.legend(legend_handles, legend_labels, loc='lower left', numpoints=2, fontsize=11.8,
                     fancybox=False, framealpha=1, edgecolor='k', borderaxespad=0.3,
                     handlelength=1.6, handletextpad=0.5, borderpad=0.3, labelspacing=0.4)
    leg.get_frame().set_linewidth(1.0)
    leg.set_zorder(10)

fig.savefig('out.png', dpi=100)
